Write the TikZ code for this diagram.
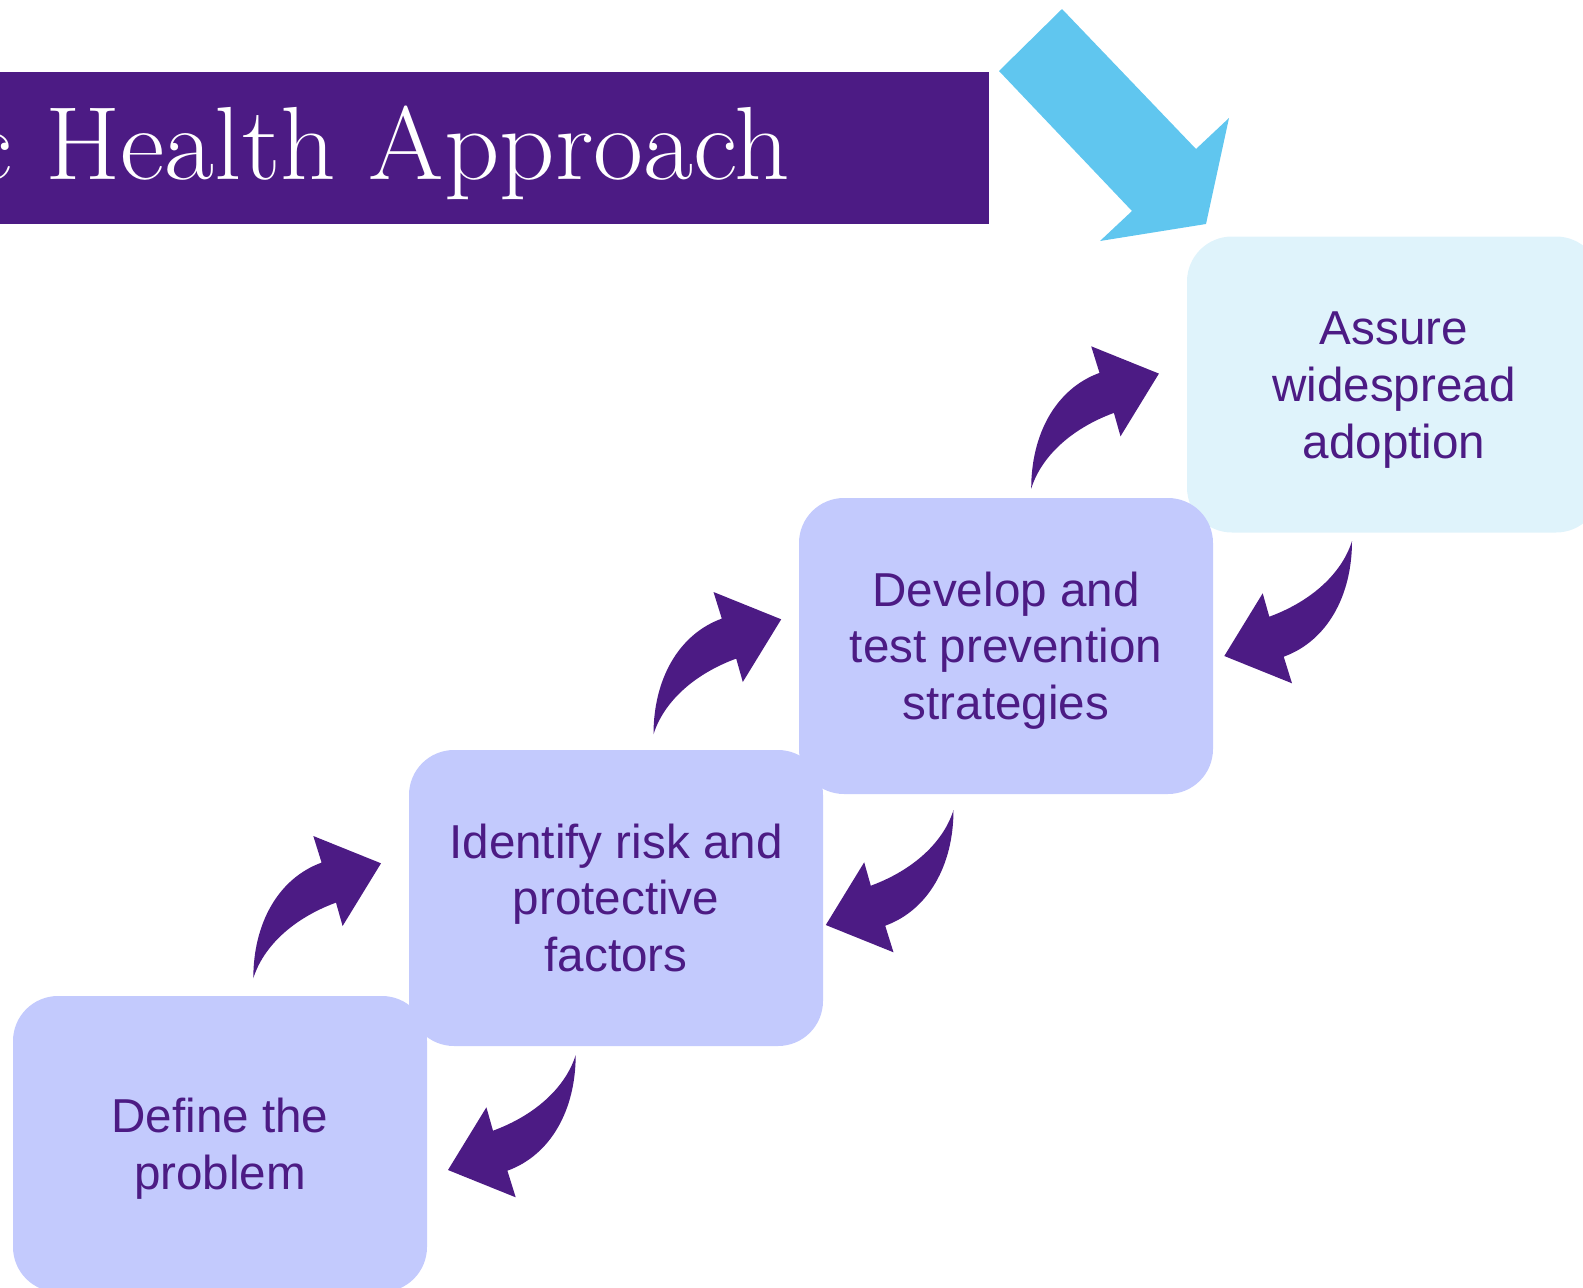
\documentclass[tikz,border=0pt]{standalone}
\usepackage{fontspec}
\newfontfamily\stagefont{Liberation Sans}
\definecolor{deeppurple}{HTML}{4C1B84}
\definecolor{lavender}{HTML}{C3CAFD}
\definecolor{paleblue}{HTML}{DFF3FB}
\definecolor{skyarrow}{HTML}{60C6EF}
\tikzset{
  stage/.style={rectangle, rounded corners=45pt, minimum width=414pt,
    minimum height=296pt, inner sep=0pt, draw=none},
  stagetext/.style={align=center, inner sep=0pt, text=deeppurple,
    font=\stagefont\fontsize{47.6}{56.7}\selectfont},
  titletext/.style={inner sep=0pt, text=white,
    font=\fontsize{104}{110}\selectfont},
  bendarrow/.pic={
    \fill[deeppurple] (0,0) .. controls (0,-55) and (25,-100) .. (68.3,-115.7)
      -- (60,-142.3) -- (127.7,-115) -- (89.3,-52.3) -- (82.7,-75.7)
      .. controls (40,-60) and (10,-32) .. cycle;
  }
}
\begin{document}
\begin{tikzpicture}[x=1pt,y=-1pt]
\useasboundingbox (0,0) rectangle (1583,1288);
\clip (0,0) rectangle (1583,1288);

% title banner
\node[rectangle, fill=deeppurple, anchor=north west, minimum width=989pt,
  minimum height=152pt, inner sep=0pt] (banner) at (0,72) {};
\node[titletext, anchor=base east] (title) at (790.5,179.3)
  {\scalebox{1.045}[1]{Public Health Approach}};

% big entry arrow
\fill[skyarrow] (1062,9) -- (1196,149) -- (1229,118) -- (1206,224)
  -- (1100,241) -- (1132,211) -- (999,71) -- cycle;

% the four steps
\node[stage, fill=paleblue] (s4) at (1394,384.5) {};
\node[stage, fill=lavender] (s3) at (1006,646) {};
\node[stage, fill=lavender] (s2) at (616,898) {};
\node[stage, fill=lavender] (s1) at (220,1144) {};

\node[stagetext] (t1) at ([yshift=-5.5pt]s1.center) {\strut Define the\\\strut problem};
\node[stagetext] (t2) at ([yshift=-5.5pt]s2.center) {\strut Identify risk and\\\strut protective\\\strut factors};
\node[stagetext] (t3) at ([yshift=-5.5pt]s3.center) {\strut Develop and\\\strut test prevention\\\strut strategies};
\node[stagetext] (t4) at ([yshift=-5.5pt]s4.center) {\strut Assure\\\strut widespread\\\strut adoption};

% curved step arrows
\pic (up1) at (253.3,978.3) {bendarrow};
\pic (up2) at (653.5,734.3) {bendarrow};
\pic (up3) at (1031.2,488.6) {bendarrow};
\pic[rotate=180] (down1) at (575.7,1055) {bendarrow};
\pic[rotate=180] (down2) at (953.5,810) {bendarrow};
\pic[rotate=180] (down3) at (1352,541) {bendarrow};
\end{tikzpicture}
\end{document}
